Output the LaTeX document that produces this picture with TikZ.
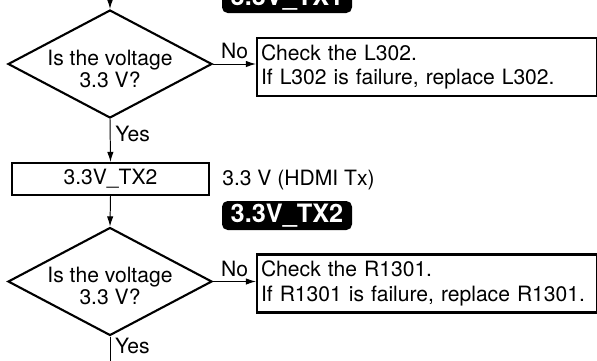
\documentclass[tikz,border=0pt]{standalone}
\usepackage{fontspec}
\setmainfont{TeX Gyre Heros}
\usepackage{tikz}
\usetikzlibrary{arrows.meta,positioning,calc,shapes.geometric}

\begin{document}
\begin{tikzpicture}[>={Latex[length=2.5mm,width=1.6mm]},
   dec/.style={diamond,draw,line width=1.5pt,aspect=1.89,inner sep=0pt,minimum width=5.1cm,minimum height=2.7cm},
   qtxt/.style={align=center,inner sep=0pt,font=\fontsize{15}{15.5}\selectfont},
   chk/.style={draw,line width=1.5pt,text width=8.3cm,inner xsep=0.1cm,minimum height=1.45cm,align=left,font=\fontsize{15}{17.5}\selectfont},
   lbl/.style={draw,line width=1.5pt,minimum width=4.925cm,minimum height=0.8cm,inner sep=0pt,font=\fontsize{15}{17}\selectfont},
   tag/.style={fill=black,text=white,rounded corners=4pt,minimum width=3.25cm,minimum height=0.725cm,inner sep=0pt,font=\fontsize{18}{20}\selectfont\bfseries},
   txt/.style={font=\fontsize{15}{17}\selectfont},
   ln/.style={line width=0.7pt}]
  \useasboundingbox (0,0) rectangle (14.925,-9);
  \coordinate (in) at (2.75,0);
  \node[tag] (b1) at (7.175,0.0375) {3.3V\_TX1};
  \node[dec] (d1) at (2.75,-1.6) {};
  \node[qtxt] (q1) at ($(d1.center)+(0,-0.12)$) {Is the voltage\\3.3 V?};
  \node[chk] (c1) at (10.675,-1.675) {Check the L302.\\If L302 is failure, replace L302.};
  \node[lbl] (t2) at (2.7625,-4.475) {3.3V\_TX2};
  \node[txt,anchor=west,inner sep=0pt] (hv) at (5.55,-4.5) {3.3 V (HDMI Tx)};
  \node[tag] (b2) at (7.175,-5.3875) {3.3V\_TX2};
  \node[dec] (d2) at (2.75,-7.0375) {};
  \node[qtxt] (q2) at ($(d2.center)+(0,-0.12)$) {Is the voltage\\3.3 V?};
  \node[chk] (c2) at (10.675,-7.0875) {Check the R1301.\\If R1301 is failure, replace R1301.};
  \coordinate (out) at (2.75,-9.2);
  % connectors
  \draw[->,ln] (in) -- (d1.north);
  \draw[->,ln] (d1.east) -- node[above,txt]{No} (d1.east -| c1.west);
  \draw[->,ln] (d1.south) -- node[right,txt,pos=0.35]{Yes} (t2.north);
  \draw[->,ln] (t2.south) -- (d2.north);
  \draw[->,ln] (d2.east) -- node[above,txt]{No} (d2.east -| c2.west);
  \draw[ln] (d2.south) -- node[right,txt,pos=0.3]{Yes} (out);
\end{tikzpicture}
\end{document}
